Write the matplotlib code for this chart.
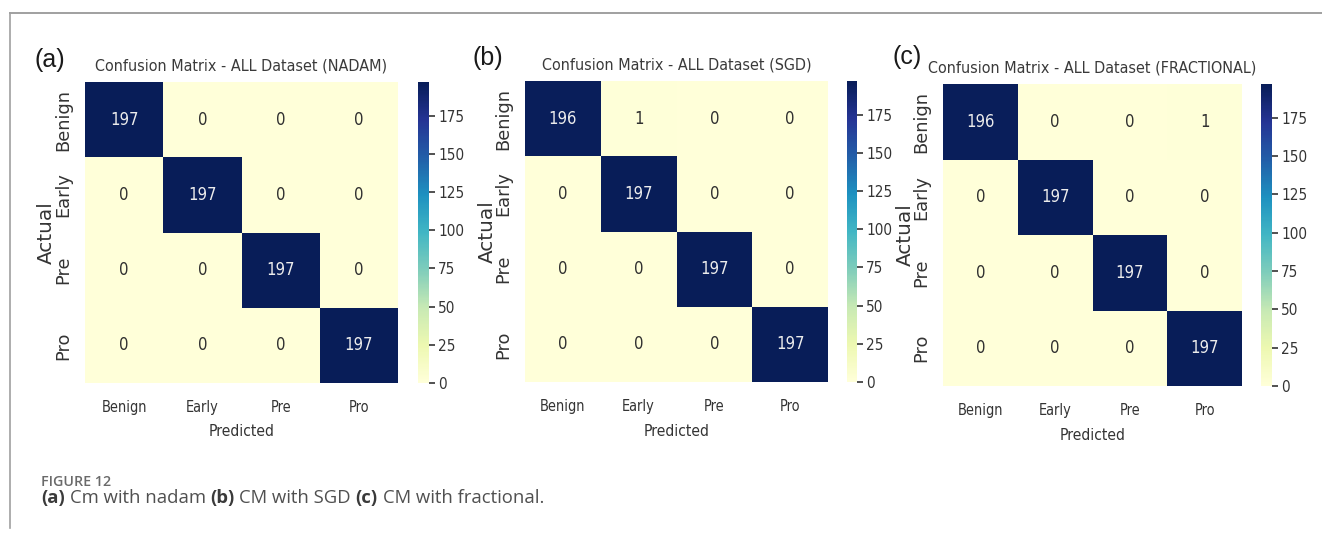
import numpy as np
import matplotlib
matplotlib.use("Agg")
import matplotlib.pyplot as plt
from matplotlib import font_manager as fm
from matplotlib.text import Annotation
from matplotlib.colors import Normalize

# ---- data ----
classes = ["Benign", "Early", "Pre", "Pro"]
cm_nadam = [[197, 0, 0, 0],
            [0, 197, 0, 0],
            [0, 0, 197, 0],
            [0, 0, 0, 197]]
cm_sgd = [[196, 1, 0, 0],
          [0, 197, 0, 0],
          [0, 0, 197, 0],
          [0, 0, 0, 197]]
cm_fractional = [[196, 0, 0, 1],
                 [0, 197, 0, 0],
                 [0, 0, 197, 0],
                 [0, 0, 0, 197]]
optimizers = ["NADAM", "SGD", "FRACTIONAL"]
panel_tags = ["(a)", "(b)", "(c)"]
cbar_ticks = [0, 25, 50, 75, 100, 125, 150, 175]
matrices = [cm_nadam, cm_sgd, cm_fractional]

# ---- fonts ----
fonts = fm.fontManager.ttflist
installed = {f.name for f in fonts}


def pick(*names):
    for n in names:
        if n in installed:
            return n
    return "DejaVu Sans"


# horizontal chart text uses a condensed face when one is available
if any(f.name == "DejaVu Sans" and f.stretch == "condensed" for f in fonts):
    NARROW = dict(family="DejaVu Sans", stretch="condensed")
    nscale = 1.0 / 0.9
elif "DejaVu Sans Condensed" in installed:
    NARROW = dict(family="DejaVu Sans Condensed")
    nscale = 1.0 / 0.9
else:
    NARROW = dict(family="DejaVu Sans")
    nscale = 1.0


def nfs(size):
    return size * nscale


UPRIGHT = "DejaVu Sans"
CAPTION = pick("Open Sans", "Noto Sans", "Lato")
TAG = pick("Liberation Sans", "DejaVu Sans")
INK = "#343434"

# ---- figure & layout (pixel boxes: left, top, right, bottom) ----
W, H = 1322, 533
fig = plt.figure(figsize=(W / 100, H / 100), dpi=100)


def rect(l, t, r, b):
    return [l / W, 1 - b / H, (r - l) / W, (b - t) / H]


heat_boxes = [(85, 82, 398, 383), (525, 81, 828, 382), (943, 84, 1242, 386)]
cbar_boxes = [(418, 82, 429, 383), (847, 81, 857, 382), (1261, 84, 1272, 386)]
tag_pos = [(35, 60), (473, 58), (892, 57)]

cmap = plt.get_cmap("YlGnBu")

for k, cm in enumerate(matrices):
    data = np.array(cm, dtype=float)
    vmax = data.max()
    norm = Normalize(vmin=0, vmax=vmax)
    ax = fig.add_axes(rect(*heat_boxes[k]))
    n = len(classes)
    mesh = ax.pcolormesh(np.arange(n + 1), np.arange(n + 1), data,
                         cmap=cmap, norm=norm)
    ax.set_xlim(0, n)
    ax.set_ylim(n, 0)
    for s in ax.spines.values():
        s.set_visible(False)

    # cell annotations
    for i in range(n):
        for j in range(n):
            rgba = cmap(norm(data[i, j]))
            lum = 0.2126 * rgba[0] + 0.7152 * rgba[1] + 0.0722 * rgba[2]
            color = "#303030" if lum > 0.408 else "#ececec"
            ax.text(j + 0.5, i + 0.5, f"{int(data[i, j])}", ha="center",
                    va="center", color=color, fontsize=nfs(10.8), **NARROW)

    centers = np.arange(n) + 0.5
    ax.set_xticks(centers)
    ax.set_xticklabels(classes, fontsize=nfs(9.4), color=INK, **NARROW)
    ax.set_yticks(centers)
    ax.set_yticklabels(classes, family=UPRIGHT, fontsize=12.8, color=INK,
                       rotation=90, va="center")
    ax.tick_params(axis="x", length=0, pad=12)
    ax.tick_params(axis="y", length=0, pad=9)

    ax.set_xlabel("Predicted", fontsize=nfs(10.1), color=INK,
                  va="center", **NARROW)
    ax.xaxis.set_label_coords(0.5, -49 / 301)
    ax.set_ylabel("Actual", family=UPRIGHT, fontsize=14.4, color=INK,
                  va="center")
    ax.yaxis.set_label_coords(-38 / 305, 0.5)

    ax.set_title(f"Confusion Matrix - ALL Dataset ({optimizers[k]})",
                 fontsize=nfs(10.4), color="#3a3a3a", pad=8, **NARROW)

    cax = fig.add_axes(rect(*cbar_boxes[k]))
    cb = fig.colorbar(mesh, cax=cax)
    cb.outline.set_visible(False)
    cb.set_ticks(cbar_ticks)
    cax.tick_params(length=4, width=1.2, color="#333333", pad=2.5,
                    labelsize=nfs(9.9), labelcolor=INK)
    for lab in cax.get_yticklabels():
        lab.set_fontproperties(fm.FontProperties(size=nfs(9.9), **NARROW))

    tx, ty = tag_pos[k]
    fig.text(tx / W, 1 - ty / H, panel_tags[k], family=TAG, fontsize=18,
             color="#1a1a1a", ha="left", va="center")

# ---- frame lines ----
fig.add_artist(plt.Line2D([10 / W, 1], [1 - 12.5 / H] * 2,
                          color="#a0a0a0", lw=1.4))
fig.add_artist(plt.Line2D([10 / W] * 2, [1 - 12.5 / H, 1 - 528 / H],
                          color="#a0a0a0", lw=1.2))

# ---- caption ----
fig.text(41 / W, 1 - 482 / H, "FIGURE 12", family=CAPTION, fontsize=10.3,
         fontweight="semibold", color="#6a6a6a", ha="left", va="center")

segments = [("(a)", True), ("Cm with nadam", False), ("(b)", True),
            ("CM with SGD", False), ("(c)", True),
            ("CM with fractional.", False)]
cap_size = 13.3
space_pt = 0.26 * cap_size
prev = fig.text(41 / W, 1 - 503 / H, segments[0][0], family=CAPTION,
                fontsize=cap_size, fontweight="bold", color="#3a3a3a",
                ha="left", va="baseline")
for s, bold in segments[1:]:
    a = Annotation(s, xy=(1, 0), xycoords=prev, xytext=(space_pt, 0),
                   textcoords="offset points", ha="left", va="bottom",
                   family=CAPTION, fontsize=cap_size,
                   fontweight="bold" if bold else "normal",
                   color="#3a3a3a" if bold else "#505050")
    fig.add_artist(a)
    prev = a

fig.savefig("out.png", dpi=100)
